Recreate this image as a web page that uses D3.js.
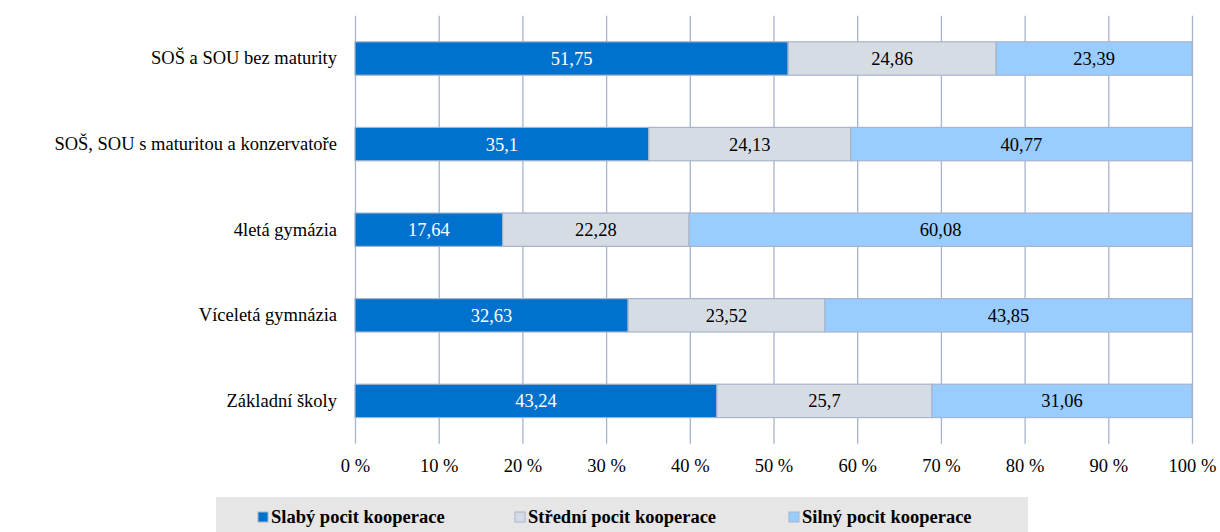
<!DOCTYPE html>
<html>
<head>
<meta charset="utf-8">
<script src="https://cdnjs.cloudflare.com/ajax/libs/d3/7.8.5/d3.min.js"></script>
<style>
body { margin: 0; background: #fff; font-family: "Liberation Serif", serif; }
</style>
</head>
<body>
<div id="chart"></div>
<script>
// data
var categories = ["SOŠ a SOU bez maturity", "SOŠ, SOU s maturitou a konzervatoře", "4letá gymázia", "Víceletá gymnázia", "Základní školy"];
var seriesNames = ["Slabý pocit kooperace", "Střední pocit kooperace", "Silný pocit kooperace"];
var slaby = [51.75, 35.1, 17.64, 32.63, 43.24];
var stredni = [24.86, 24.13, 22.28, 23.52, 25.7];
var silny = [23.39, 40.77, 60.08, 43.85, 31.06];
var ticks = [0, 10, 20, 30, 40, 50, 60, 70, 80, 90, 100];

var colors = ["#0072CE", "#D6DCE4", "#99CCFF"];
var textColors = ["#fff", "#000", "#000"];
var serif = "Liberation Serif";

var width = 1220, height = 532;
var margin = {top: 15.7, left: 355};
var innerWidth = 1192 - 355,
    innerHeight = 443.7 - 15.7;

var svg = d3.select("#chart").append("svg")
  .attr("width", width)
  .attr("height", height)
  .attr("font-family", serif);

var g = svg.append("g")
  .attr("transform", "translate(" + margin.left + "," + margin.top + ")");

var x = d3.scaleLinear().domain([0, 100]).range([0, innerWidth]);
var y = d3.scaleBand().domain(categories).range([0, innerHeight]).paddingInner(0.61).paddingOuter(0.305);

// gridlines
g.append("g").selectAll("line")
  .data(ticks)
  .enter().append("line")
  .attr("x1", d => x(d) + 0.5).attr("x2", d => x(d) + 0.5)
  .attr("y1", 0).attr("y2", innerHeight)
  .style("stroke", "#A6B4CC")
  .style("stroke-width", 1.3);

// x axis labels
var xAxis = d3.axisBottom(x).tickValues(ticks).tickSize(0).tickPadding(15)
  .tickFormat(d => d + " %");
g.append("g")
  .attr("transform", "translate(0," + innerHeight + ")")
  .call(xAxis)
  .attr("font-family", serif)
  .attr("font-size", 18.5)
  .call(a => a.select(".domain").remove())
  .selectAll("text")
  .attr("fill", "#000");

// y axis labels
var yAxis = d3.axisLeft(y).tickSize(0).tickPadding(18);
g.append("g")
  .call(yAxis)
  .attr("font-family", serif)
  .attr("font-size", 18.5)
  .call(a => a.select(".domain").remove())
  .selectAll("text")
  .attr("fill", "#000");

// stacked bars
var rows = categories.map((c, i) => ({cat: c, vals: [slaby[i], stredni[i], silny[i]]}));
var stack = [];
rows.forEach(r => {
  var start = 0;
  r.vals.forEach((v, k) => {
    stack.push({cat: r.cat, k: k, v: v, x0: start, x1: start + v});
    start += v;
  });
});

var bars = g.append("g").selectAll("g")
  .data(stack)
  .enter().append("g");

bars.append("rect")
  .attr("x", d => x(d.x0))
  .attr("y", d => y(d.cat))
  .attr("width", d => x(d.x1) - x(d.x0))
  .attr("height", y.bandwidth())
  .style("fill", d => colors[d.k])
  .style("stroke", "#A6B4CC")
  .style("stroke-width", 1.2);

bars.append("text")
  .attr("x", d => (x(d.x0) + x(d.x1)) / 2)
  .attr("y", d => y(d.cat) + y.bandwidth() / 2)
  .attr("dy", "0.35em")
  .attr("text-anchor", "middle")
  .attr("font-size", 18.5)
  .attr("fill", d => textColors[d.k])
  .text(d => String(d.v).replace(".", ","));

// legend
var legend = svg.append("g");
legend.append("rect")
  .attr("x", 216).attr("y", 497)
  .attr("width", 812).attr("height", 35)
  .style("fill", "#E6E6E6");

var legendX = [258, 515, 789];
var items = legend.selectAll("g.item")
  .data(seriesNames)
  .enter().append("g")
  .attr("transform", (d, i) => "translate(" + legendX[i] + ",517)");

items.append("rect")
  .attr("x", 0).attr("y", -5)
  .attr("width", 10).attr("height", 10)
  .style("fill", (d, i) => colors[i])
  .style("stroke", "#A6B4CC")
  .style("stroke-width", 1);

items.append("text")
  .attr("x", 13).attr("dy", "0.35em")
  .attr("font-size", 18.5)
  .attr("font-weight", "bold")
  .text(d => d);
</script>
</body>
</html>
